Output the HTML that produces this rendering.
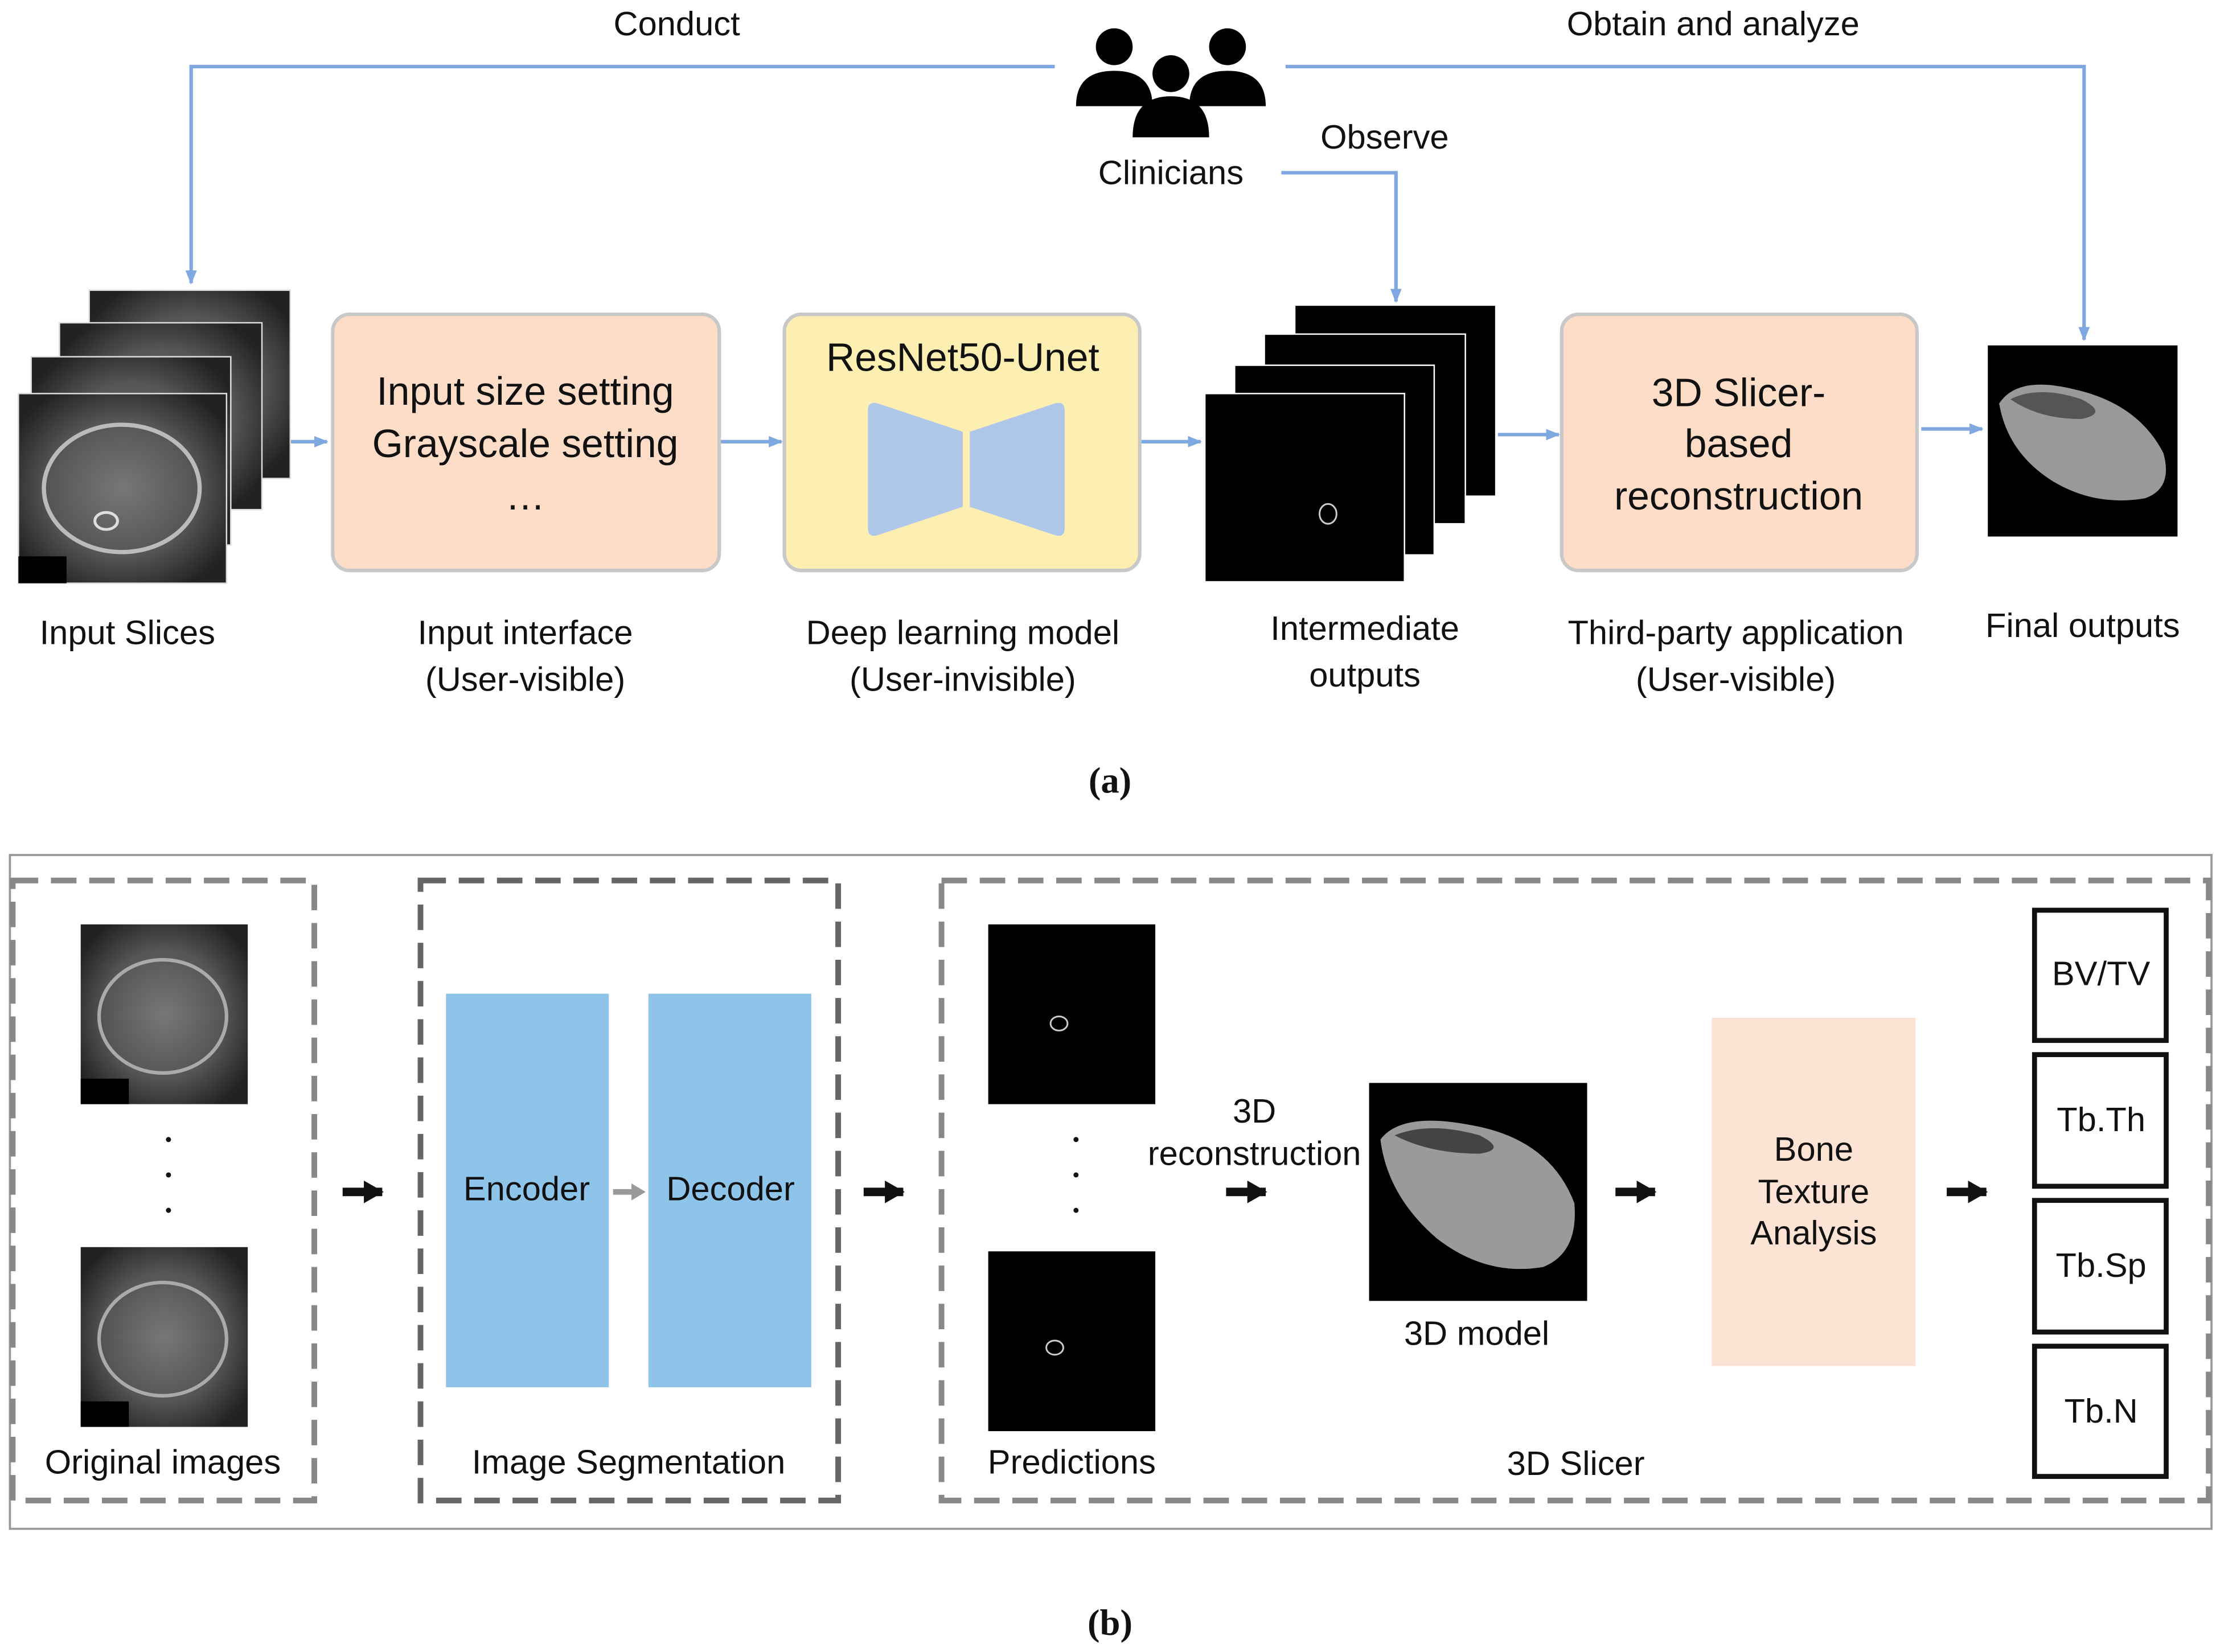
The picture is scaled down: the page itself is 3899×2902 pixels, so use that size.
<!DOCTYPE html>
<html><head><meta charset="utf-8"><style>
html,body{margin:0;padding:0;background:#fff;}
svg{display:block;}
text{font-family:"Liberation Sans",Arial,sans-serif;fill:#111;}
.s{font-family:"Liberation Serif",serif;font-weight:bold;}
</style></head><body>
<svg width="3899" height="2902" viewBox="0 0 1568 1167" xmlns="http://www.w3.org/2000/svg">
<defs>
<marker id="ab" markerWidth="10" markerHeight="10" refX="9" refY="5" orient="auto" markerUnits="userSpaceOnUse"><path d="M0,1 L10,5 L0,9 Z" fill="#7fa7e0"/></marker>
<marker id="ak" markerWidth="14" markerHeight="16" refX="13" refY="8" orient="auto" markerUnits="userSpaceOnUse"><path d="M0,0 L14,8 L0,16 Z" fill="#111"/></marker>
<radialGradient id="ct" cx="50%" cy="50%" r="60%"><stop offset="0" stop-color="#777"/><stop offset="0.6" stop-color="#555"/><stop offset="1" stop-color="#222"/></radialGradient>
</defs>
<!-- top connectors -->
<g stroke="#7fa7e0" stroke-width="2.5" fill="none">
<path d="M745,47 H135 V200" marker-end="url(#ab)"/>
<path d="M908,47 H1472 V240" marker-end="url(#ab)"/>
<path d="M905,122 H986 V213" marker-end="url(#ab)"/>
<path d="M187,312 H231" marker-end="url(#ab)"/>
<path d="M508,312 H552" marker-end="url(#ab)"/>
<path d="M806,312 H848" marker-end="url(#ab)"/>
<path d="M1058,307 H1101" marker-end="url(#ab)"/>
<path d="M1357,303 H1400" marker-end="url(#ab)"/>
</g>
<text x="478" y="25" font-size="24" text-anchor="middle">Conduct</text>
<text x="1210" y="25" font-size="24" text-anchor="middle">Obtain and analyze</text>
<text x="978" y="105" font-size="24" text-anchor="middle">Observe</text>
<text x="827" y="130" font-size="24" text-anchor="middle">Clinicians</text>
<!-- clinicians icon -->
<g fill="#000">
<circle cx="787" cy="33" r="13"/><path d="M760,75 Q760,50 787,50 Q814,50 814,75 Z"/>
<circle cx="867" cy="33" r="13"/><path d="M840,75 Q840,50 867,50 Q894,50 894,75 Z"/>
<circle cx="827" cy="52" r="13"/><path d="M800,97 Q800,68 827,68 Q854,68 854,97 Z"/>
</g>
<!-- input slices -->
<g stroke="#ddd" stroke-width="1">
<rect x="63" y="205" width="142" height="133" fill="url(#ct)"/>
<rect x="42" y="228" width="143" height="132" fill="url(#ct)"/>
<rect x="22" y="252" width="141" height="133" fill="url(#ct)"/>
<rect x="13" y="278" width="147" height="134" fill="url(#ct)"/>
</g>
<ellipse cx="86" cy="345" rx="55" ry="45" fill="none" stroke="#bbb" stroke-width="3"/>
<ellipse cx="75" cy="368" rx="8" ry="6" fill="none" stroke="#ddd" stroke-width="2"/>
<rect x="13" y="393" width="34" height="19" fill="#000"/>
<text x="90" y="455" font-size="24" text-anchor="middle">Input Slices</text>
<!-- box1 -->
<rect x="235" y="222" width="273" height="181" rx="12" fill="#fddcc8" stroke="#c8c8c8" stroke-width="2.5"/>
<text x="371" y="286" font-size="28" text-anchor="middle">Input size setting</text>
<text x="371" y="323" font-size="28" text-anchor="middle">Grayscale setting</text>
<text x="371" y="360" font-size="28" text-anchor="middle">…</text>
<text x="371" y="455" font-size="24" text-anchor="middle">Input interface</text>
<text x="371" y="488" font-size="24" text-anchor="middle">(User-visible)</text>
<!-- box2 -->
<rect x="554" y="222" width="251" height="181" rx="12" fill="#fdefb2" stroke="#c8c8c8" stroke-width="2.5"/>
<text x="680" y="262" font-size="28" text-anchor="middle">ResNet50-Unet</text>
<path d="M613,290 Q613,283 620,285 L680,305 V358 L620,378 Q613,380 613,373 Z" fill="#aec7e8"/>
<path d="M752,290 Q752,283 745,285 L685,305 V358 L745,378 Q752,380 752,373 Z" fill="#aec7e8"/>
<text x="680" y="455" font-size="24" text-anchor="middle">Deep learning model</text>
<text x="680" y="488" font-size="24" text-anchor="middle">(User-invisible)</text>
<!-- intermediate -->
<rect x="915" y="216" width="141" height="134" fill="#000"/>
<rect x="893" y="236" width="142" height="134" fill="#000" stroke="#fff" stroke-width="1"/>
<rect x="872" y="258" width="141" height="134" fill="#000" stroke="#fff" stroke-width="1"/>
<rect x="851" y="278" width="141" height="133" fill="#000" stroke="#fff" stroke-width="1"/>
<ellipse cx="938" cy="363" rx="6" ry="7" fill="none" stroke="#ccc" stroke-width="1.2"/>
<text x="964" y="452" font-size="24" text-anchor="middle">Intermediate</text>
<text x="964" y="485" font-size="24" text-anchor="middle">outputs</text>
<!-- box3 -->
<rect x="1103" y="222" width="251" height="181" rx="12" fill="#fddcc8" stroke="#c8c8c8" stroke-width="2.5"/>
<text x="1228" y="287" font-size="28" text-anchor="middle">3D Slicer-</text>
<text x="1228" y="323" font-size="28" text-anchor="middle">based</text>
<text x="1228" y="360" font-size="28" text-anchor="middle">reconstruction</text>
<text x="1226" y="455" font-size="24" text-anchor="middle">Third-party application</text>
<text x="1226" y="488" font-size="24" text-anchor="middle">(User-visible)</text>
<!-- final -->
<rect x="1404" y="244" width="134" height="135" fill="#000"/>
<path d="M1412,285 Q1425,265 1465,275 Q1510,285 1528,320 Q1535,345 1515,352 Q1480,358 1450,340 Q1418,320 1412,285 Z" fill="#999"/>
<path d="M1420,282 Q1440,272 1470,282 Q1490,292 1470,296 Q1440,296 1420,282 Z" fill="#555"/>
<text x="1471" y="450" font-size="24" text-anchor="middle">Final outputs</text>
<text x="784" y="560" font-size="26" text-anchor="middle" class="s">(a)</text>
<!-- bottom -->
<rect x="7" y="604" width="1555" height="476" fill="none" stroke="#999" stroke-width="1.5"/>
<g fill="none" stroke="#888" stroke-width="4" stroke-dasharray="18,9">
<rect x="9" y="622" width="213" height="438"/>
<rect x="297" y="622" width="295" height="438" stroke="#666"/>
<rect x="665" y="622" width="895" height="438"/>
</g>
<rect x="57" y="653" width="118" height="127" fill="url(#ct)"/>
<rect x="57" y="881" width="118" height="127" fill="url(#ct)"/>
<ellipse cx="115" cy="718" rx="45" ry="40" fill="none" stroke="#aaa" stroke-width="2.5"/>
<ellipse cx="115" cy="946" rx="45" ry="40" fill="none" stroke="#aaa" stroke-width="2.5"/>
<rect x="57" y="762" width="34" height="18" fill="#000"/><rect x="57" y="990" width="34" height="18" fill="#000"/>
<g fill="#111"><circle cx="119" cy="805" r="1.8"/><circle cx="119" cy="830" r="1.8"/><circle cx="119" cy="855" r="1.8"/>
<circle cx="760" cy="805" r="1.8"/><circle cx="760" cy="830" r="1.8"/><circle cx="760" cy="855" r="1.8"/></g>
<text x="115" y="1041" font-size="24" text-anchor="middle">Original images</text>
<g stroke="#111" stroke-width="6" fill="none">
<path d="M242,842 H270" marker-end="url(#ak)"/>
<path d="M610,842 H638" marker-end="url(#ak)"/>
<path d="M866,842 H894" marker-end="url(#ak)"/>
<path d="M1141,842 H1169" marker-end="url(#ak)"/>
<path d="M1375,842 H1403" marker-end="url(#ak)"/>
</g>
<rect x="315" y="702" width="115" height="278" fill="#8ec4ea"/>
<rect x="458" y="702" width="115" height="278" fill="#8ec4ea"/>
<text x="372" y="848" font-size="24" text-anchor="middle">Encoder</text>
<text x="516" y="848" font-size="24" text-anchor="middle">Decoder</text>
<path d="M433,842 H448" stroke="#999" stroke-width="4"/><path d="M446,836 L456,842 L446,848 Z" fill="#999"/>
<text x="444" y="1041" font-size="24" text-anchor="middle">Image Segmentation</text>
<rect x="698" y="653" width="118" height="127" fill="#000"/>
<rect x="698" y="884" width="118" height="127" fill="#000"/>
<ellipse cx="748" cy="723" rx="6" ry="5" fill="none" stroke="#ccc" stroke-width="1.2"/>
<ellipse cx="745" cy="952" rx="6" ry="5" fill="none" stroke="#ccc" stroke-width="1.2"/>
<text x="757" y="1041" font-size="24" text-anchor="middle">Predictions</text>
<text x="886" y="793" font-size="24" text-anchor="middle">3D</text>
<text x="886" y="823" font-size="24" text-anchor="middle">reconstruction</text>
<rect x="967" y="765" width="154" height="154" fill="#000"/>
<path d="M975,805 Q990,785 1040,795 Q1095,805 1112,850 Q1115,885 1090,895 Q1050,902 1015,875 Q980,845 975,805 Z" fill="#9a9a9a"/>
<path d="M985,802 Q1010,792 1045,802 Q1065,812 1045,815 Q1010,815 985,802 Z" fill="#444"/>
<text x="1043" y="950" font-size="24" text-anchor="middle">3D model</text>
<rect x="1209" y="719" width="144" height="246" fill="#fde3d3"/>
<text x="1281" y="820" font-size="24" text-anchor="middle">Bone</text>
<text x="1281" y="850" font-size="24" text-anchor="middle">Texture</text>
<text x="1281" y="879" font-size="24" text-anchor="middle">Analysis</text>
<text x="1113" y="1042" font-size="24" text-anchor="middle">3D Slicer</text>
<g fill="#fff" stroke="#111" stroke-width="3.5">
<rect x="1437" y="643" width="93" height="92"/>
<rect x="1437" y="745" width="93" height="93"/>
<rect x="1437" y="848" width="93" height="93"/>
<rect x="1437" y="951" width="93" height="92"/>
</g>
<text x="1484" y="696" font-size="24" text-anchor="middle">BV/TV</text>
<text x="1484" y="799" font-size="24" text-anchor="middle">Tb.Th</text>
<text x="1484" y="902" font-size="24" text-anchor="middle">Tb.Sp</text>
<text x="1484" y="1005" font-size="24" text-anchor="middle">Tb.N</text>
<text x="784" y="1155" font-size="26" text-anchor="middle" class="s">(b)</text>
</svg>
</body></html>
